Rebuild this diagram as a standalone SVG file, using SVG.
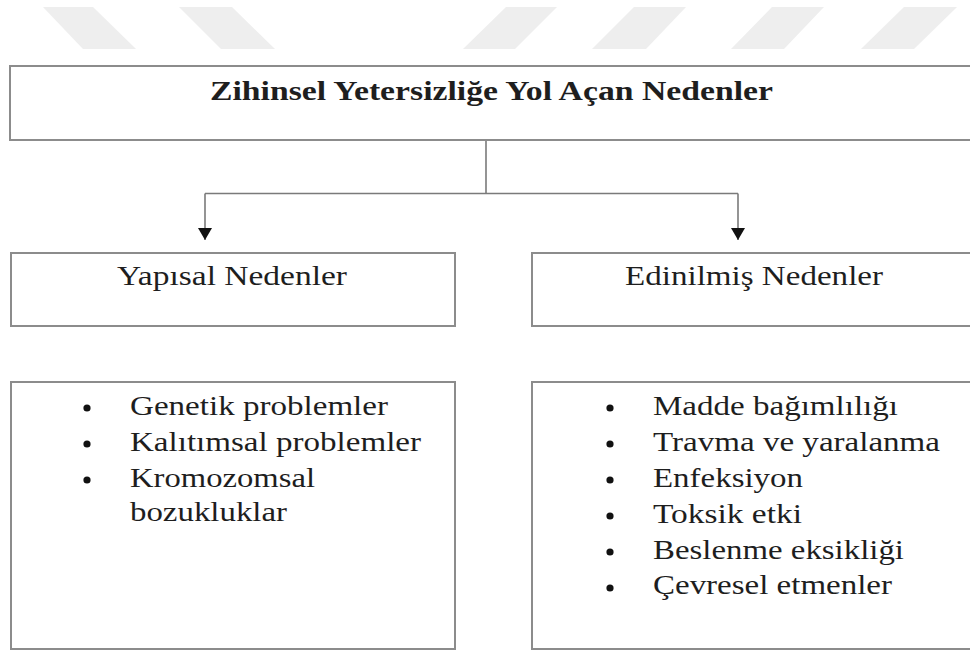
<svg xmlns="http://www.w3.org/2000/svg" width="970" height="652" viewBox="0 0 970 652">
<style>
.box{fill:#ffffff;stroke:#8c8c8c;stroke-width:2}
.wm{fill:#eeeeee}
.conn{fill:none;stroke:#7a7a7a;stroke-width:1.6}
.t{font-family:'Liberation Serif',Tinos,Times,serif;font-size:27px;fill:#1e1e1e}
.title{font-weight:bold}
.bul{fill:#111111}
</style>
<defs>
<marker id="arr" markerWidth="13" markerHeight="14" refX="12" refY="7" orient="auto" markerUnits="userSpaceOnUse" viewBox="0 0 13 14">
<path d="M0,0 L12,7 L0,14 Z" fill="#111111"/>
</marker>
</defs>
<rect width="970" height="652" fill="#ffffff"/>
<g id="watermark">
<polygon class="wm" points="43,7 93,7 136,49 83,49"/>
<polygon class="wm" points="179,7 232,7 275,49 221,49"/>
<polygon class="wm" points="506,7 557,7 515,49 463,49"/>
<polygon class="wm" points="634,7 686,7 646,49 592,49"/>
<polygon class="wm" points="772,7 824,7 784,49 731,49"/>
<polygon class="wm" points="904,7 957,7 914,49 861,49"/>
</g>
<g id="connectors">
<path class="conn" d="M486,140 L486,193.5"/>
<path class="conn" d="M205,193.5 L738,193.5"/>
<path class="conn" d="M205,193.5 L205,240" marker-end="url(#arr)"/>
<path class="conn" d="M738,193.5 L738,240" marker-end="url(#arr)"/>
</g>
<g id="root">
<rect class="box" x="10" y="66" width="975" height="74"/>
<text class="t title" font-family="Liberation Serif" x="210" y="100" textLength="563" lengthAdjust="spacingAndGlyphs">Zihinsel Yetersizliğe Yol Açan Nedenler</text>
</g>
<g id="yapisal">
<rect class="box" x="11" y="253" width="444" height="73"/>
<text class="t" x="117" y="285" textLength="230" lengthAdjust="spacingAndGlyphs">Yapısal Nedenler</text>
</g>
<g id="edinilmis">
<rect class="box" x="532" y="253" width="453" height="73"/>
<text class="t" x="625" y="285" textLength="258" lengthAdjust="spacingAndGlyphs">Edinilmiş Nedenler</text>
</g>
<g id="yapisal-list">
<rect class="box" x="11" y="382" width="444" height="267"/>
<circle class="bul" cx="87" cy="408" r="3.6"/>
<circle class="bul" cx="87" cy="444" r="3.6"/>
<circle class="bul" cx="87" cy="480" r="3.6"/>
<text class="t" x="130" y="415" textLength="258" lengthAdjust="spacingAndGlyphs">Genetik problemler</text>
<text class="t" x="130" y="451" textLength="291" lengthAdjust="spacingAndGlyphs">Kalıtımsal problemler</text>
<text class="t" x="130" y="487" textLength="185" lengthAdjust="spacingAndGlyphs">Kromozomsal</text>
<text class="t" x="130" y="521" textLength="157" lengthAdjust="spacingAndGlyphs">bozukluklar</text>
</g>
<g id="edinilmis-list">
<rect class="box" x="532" y="382" width="453" height="267"/>
<circle class="bul" cx="610" cy="408" r="3.6"/>
<circle class="bul" cx="610" cy="444" r="3.6"/>
<circle class="bul" cx="610" cy="480" r="3.6"/>
<circle class="bul" cx="610" cy="516" r="3.6"/>
<circle class="bul" cx="610" cy="552" r="3.6"/>
<circle class="bul" cx="610" cy="588" r="3.6"/>
<text class="t" x="653" y="415" textLength="245" lengthAdjust="spacingAndGlyphs">Madde bağımlılığı</text>
<text class="t" x="653" y="451" textLength="287" lengthAdjust="spacingAndGlyphs">Travma ve yaralanma</text>
<text class="t" x="653" y="487" textLength="150" lengthAdjust="spacingAndGlyphs">Enfeksiyon</text>
<text class="t" x="653" y="523" textLength="149" lengthAdjust="spacingAndGlyphs">Toksik etki</text>
<text class="t" x="653" y="559" textLength="251" lengthAdjust="spacingAndGlyphs">Beslenme eksikliği</text>
<text class="t" x="653" y="594" textLength="239" lengthAdjust="spacingAndGlyphs">Çevresel etmenler</text>
</g>
</svg>
